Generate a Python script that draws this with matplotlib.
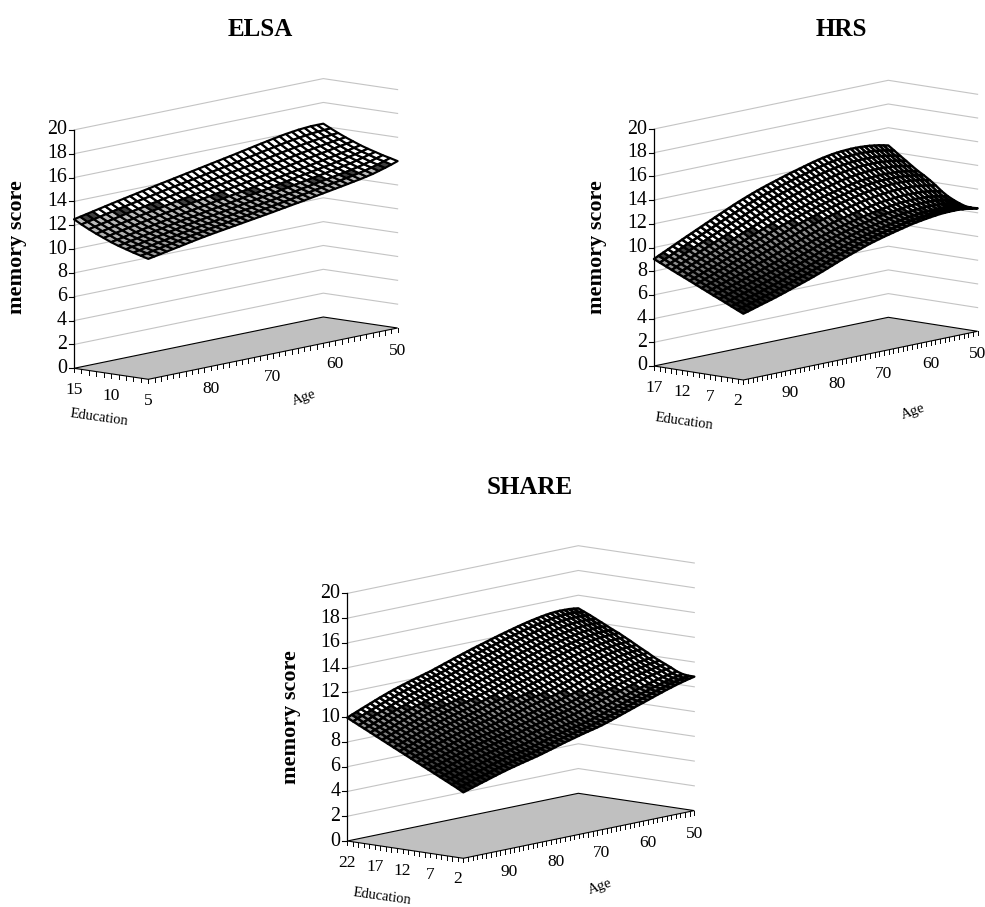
# -*- coding: utf-8 -*-

import numpy as np
import matplotlib
matplotlib.use('Agg')
import matplotlib.pyplot as plt
from matplotlib.collections import PolyCollection
from matplotlib.patches import Polygon

plt.rcParams['font.family'] = ['Liberation Serif', 'DejaVu Serif']

# ELSA: rows are education 15 ... 5, columns are age 90 ... 50
elsa_age = list(range(90, 49, -1))
elsa_edu = [15, 14, 13, 12, 11, 10, 9, 8, 7, 6, 5]
elsa_score = [
    [12.50,12.61,12.72,12.83,12.94,13.05,13.16,13.27,13.37,13.48,13.58,13.69,13.79,13.90,14.00,14.10,14.20,14.30,14.40,14.50,14.60,14.70,14.80,14.90,15.00,15.10,15.20,15.31,15.41,15.52,15.62,15.72,15.82,15.91,16.00,16.07,16.14,16.18,16.22,16.22,16.22],
    [12.16,12.27,12.38,12.49,12.60,12.71,12.82,12.92,13.02,13.13,13.23,13.33,13.43,13.54,13.64,13.74,13.83,13.93,14.02,14.12,14.22,14.32,14.41,14.51,14.61,14.71,14.81,14.91,15.01,15.12,15.22,15.32,15.42,15.51,15.60,15.68,15.75,15.81,15.86,15.89,15.91],
    [11.85,11.96,12.07,12.18,12.28,12.39,12.50,12.60,12.70,12.80,12.90,13.00,13.10,13.20,13.30,13.40,13.49,13.59,13.68,13.78,13.87,13.97,14.06,14.16,14.25,14.35,14.44,14.55,14.65,14.75,14.85,14.95,15.04,15.14,15.23,15.31,15.39,15.46,15.53,15.58,15.62],
    [11.56,11.67,11.78,11.89,11.99,12.10,12.20,12.31,12.41,12.51,12.60,12.70,12.80,12.90,12.99,13.08,13.17,13.26,13.35,13.45,13.54,13.64,13.73,13.83,13.92,14.02,14.11,14.21,14.31,14.41,14.50,14.60,14.70,14.79,14.88,14.97,15.05,15.14,15.22,15.29,15.35],
    [11.30,11.41,11.51,11.62,11.72,11.83,11.93,12.03,12.13,12.23,12.33,12.42,12.51,12.61,12.70,12.79,12.88,12.97,13.06,13.15,13.24,13.33,13.42,13.52,13.61,13.71,13.80,13.90,13.99,14.09,14.19,14.29,14.38,14.47,14.56,14.65,14.74,14.84,14.93,15.02,15.11],
    [11.04,11.14,11.24,11.35,11.45,11.56,11.66,11.76,11.86,11.96,12.05,12.14,12.23,12.32,12.41,12.50,12.59,12.68,12.77,12.86,12.94,13.03,13.12,13.21,13.30,13.40,13.49,13.59,13.68,13.78,13.88,13.97,14.06,14.16,14.25,14.35,14.44,14.55,14.65,14.76,14.87],
    [10.82,10.93,11.03,11.13,11.23,11.34,11.44,11.54,11.64,11.74,11.83,11.92,12.00,12.09,12.18,12.27,12.35,12.44,12.52,12.61,12.70,12.79,12.87,12.96,13.05,13.15,13.24,13.34,13.43,13.53,13.62,13.71,13.80,13.90,13.99,14.09,14.19,14.31,14.42,14.55,14.67],
    [10.63,10.73,10.83,10.94,11.04,11.14,11.24,11.34,11.44,11.54,11.63,11.72,11.80,11.89,11.97,12.06,12.14,12.23,12.31,12.40,12.48,12.57,12.65,12.74,12.83,12.93,13.02,13.11,13.20,13.30,13.39,13.48,13.57,13.67,13.76,13.86,13.96,14.09,14.22,14.36,14.49],
    [10.44,10.54,10.64,10.74,10.84,10.94,11.04,11.15,11.25,11.34,11.43,11.52,11.60,11.68,11.76,11.85,11.93,12.02,12.10,12.18,12.26,12.35,12.43,12.52,12.61,12.70,12.79,12.89,12.98,13.07,13.16,13.25,13.34,13.44,13.53,13.63,13.74,13.87,14.01,14.16,14.31],
    [10.27,10.37,10.47,10.57,10.67,10.77,10.87,10.97,11.07,11.16,11.25,11.34,11.42,11.50,11.58,11.66,11.74,11.83,11.91,11.99,12.07,12.16,12.24,12.33,12.41,12.51,12.60,12.69,12.78,12.87,12.96,13.05,13.14,13.24,13.33,13.44,13.55,13.69,13.83,14.00,14.16],
    [10.10,10.20,10.30,10.40,10.50,10.60,10.70,10.80,10.90,10.99,11.08,11.16,11.24,11.32,11.40,11.48,11.56,11.64,11.72,11.80,11.88,11.97,12.05,12.14,12.22,12.31,12.40,12.49,12.58,12.67,12.76,12.85,12.94,13.04,13.13,13.24,13.35,13.50,13.65,13.82,14.00],
]

# HRS: age 100 ... 50, 16 mesh rows from education 17 down to 1
hrs_age = list(range(100, 49, -1))
hrs_score = [
    [9.03,9.22,9.41,9.60,9.79,9.98,10.17,10.36,10.54,10.73,10.91,11.10,11.28,11.47,11.65,11.83,12.01,12.19,12.36,12.52,12.68,12.83,12.98,13.12,13.25,13.38,13.50,13.63,13.75,13.87,13.98,14.09,14.20,14.31,14.42,14.51,14.60,14.67,14.74,14.79,14.83,14.85,14.87,14.87,14.86,14.83,14.80,14.74,14.68,14.59,14.50],
    [8.80,8.99,9.17,9.36,9.54,9.72,9.90,10.08,10.26,10.44,10.62,10.80,10.98,11.16,11.34,11.52,11.69,11.86,12.03,12.19,12.35,12.50,12.65,12.78,12.91,13.04,13.16,13.29,13.41,13.52,13.63,13.74,13.85,13.96,14.06,14.15,14.24,14.31,14.38,14.43,14.47,14.49,14.51,14.51,14.50,14.47,14.44,14.38,14.32,14.23,14.14],
    [8.57,8.75,8.93,9.11,9.29,9.47,9.64,9.82,9.99,10.17,10.34,10.52,10.69,10.87,11.04,11.21,11.38,11.55,11.72,11.88,12.03,12.18,12.32,12.46,12.59,12.72,12.84,12.96,13.08,13.19,13.30,13.41,13.51,13.62,13.72,13.81,13.89,13.96,14.02,14.07,14.11,14.13,14.15,14.15,14.14,14.11,14.08,14.02,13.96,13.87,13.78],
    [8.34,8.52,8.69,8.86,9.03,9.20,9.37,9.54,9.71,9.88,10.05,10.22,10.39,10.56,10.73,10.90,11.06,11.23,11.39,11.55,11.70,11.85,11.99,12.12,12.25,12.38,12.50,12.62,12.74,12.85,12.95,13.06,13.16,13.26,13.36,13.45,13.54,13.61,13.67,13.72,13.76,13.78,13.80,13.80,13.79,13.76,13.73,13.67,13.61,13.52,13.43],
    [8.11,8.28,8.44,8.61,8.77,8.94,9.10,9.26,9.42,9.59,9.75,9.91,10.07,10.24,10.40,10.57,10.73,10.89,11.05,11.20,11.35,11.50,11.64,11.77,11.90,12.03,12.15,12.27,12.39,12.50,12.60,12.70,12.80,12.90,13.00,13.09,13.17,13.24,13.30,13.35,13.39,13.41,13.43,13.43,13.42,13.39,13.36,13.30,13.24,13.16,13.07],
    [7.89,8.05,8.20,8.36,8.52,8.68,8.83,8.99,9.14,9.30,9.46,9.62,9.77,9.93,10.09,10.25,10.41,10.57,10.73,10.88,11.03,11.17,11.31,11.44,11.57,11.69,11.81,11.93,12.04,12.15,12.25,12.35,12.44,12.54,12.63,12.72,12.80,12.87,12.93,12.97,13.01,13.04,13.06,13.06,13.05,13.03,13.00,12.95,12.89,12.81,12.73],
    [7.66,7.81,7.96,8.11,8.26,8.41,8.56,8.72,8.87,9.03,9.18,9.34,9.49,9.65,9.80,9.96,10.12,10.28,10.44,10.59,10.74,10.88,11.02,11.15,11.28,11.40,11.52,11.64,11.75,11.86,11.97,12.07,12.16,12.25,12.34,12.43,12.51,12.58,12.64,12.69,12.73,12.75,12.77,12.77,12.76,12.73,12.70,12.65,12.60,12.52,12.44],
    [7.43,7.57,7.72,7.87,8.02,8.17,8.31,8.45,8.60,8.76,8.91,9.06,9.21,9.35,9.50,9.65,9.81,9.97,10.12,10.27,10.42,10.57,10.71,10.84,10.97,11.09,11.21,11.33,11.44,11.55,11.65,11.75,11.84,11.93,12.02,12.11,12.19,12.25,12.31,12.36,12.40,12.43,12.45,12.45,12.45,12.43,12.40,12.35,12.29,12.20,12.11],
    [7.20,7.34,7.48,7.62,7.77,7.91,8.05,8.19,8.33,8.48,8.62,8.76,8.90,9.04,9.19,9.34,9.49,9.64,9.79,9.94,10.09,10.23,10.37,10.50,10.63,10.75,10.87,10.99,11.10,11.20,11.30,11.39,11.48,11.57,11.66,11.74,11.82,11.88,11.94,11.98,12.02,12.05,12.08,12.08,12.07,12.05,12.03,11.97,11.91,11.83,11.74],
    [6.97,7.10,7.24,7.37,7.51,7.64,7.77,7.90,8.04,8.18,8.32,8.45,8.59,8.72,8.86,9.00,9.15,9.29,9.44,9.59,9.73,9.87,10.01,10.14,10.26,10.39,10.51,10.62,10.73,10.83,10.92,11.01,11.09,11.18,11.26,11.34,11.42,11.48,11.53,11.57,11.61,11.64,11.67,11.67,11.66,11.64,11.62,11.57,11.51,11.42,11.33],
    [6.74,6.87,7.00,7.12,7.25,7.37,7.50,7.63,7.76,7.89,8.03,8.16,8.29,8.42,8.56,8.70,8.84,8.98,9.13,9.27,9.42,9.56,9.69,9.82,9.94,10.07,10.19,10.30,10.40,10.50,10.59,10.68,10.77,10.85,10.93,11.01,11.08,11.14,11.19,11.24,11.28,11.31,11.33,11.33,11.33,11.31,11.29,11.23,11.17,11.09,11.00],
    [6.52,6.64,6.76,6.89,7.01,7.13,7.25,7.38,7.50,7.63,7.77,7.89,8.02,8.15,8.28,8.42,8.56,8.70,8.85,8.99,9.13,9.27,9.41,9.54,9.67,9.79,9.91,10.02,10.13,10.23,10.32,10.41,10.49,10.58,10.66,10.74,10.82,10.87,10.92,10.97,11.01,11.04,11.07,11.07,11.07,11.06,11.04,10.98,10.92,10.84,10.75],
    [6.29,6.40,6.52,6.65,6.77,6.88,7.00,7.12,7.24,7.37,7.51,7.63,7.76,7.89,8.02,8.15,8.29,8.43,8.58,8.72,8.87,9.01,9.15,9.28,9.41,9.54,9.66,9.77,9.88,9.98,10.07,10.16,10.25,10.33,10.41,10.49,10.57,10.63,10.68,10.73,10.77,10.81,10.84,10.85,10.85,10.84,10.82,10.77,10.71,10.63,10.54],
    [6.06,6.17,6.29,6.40,6.52,6.63,6.75,6.87,7.00,7.12,7.25,7.37,7.50,7.63,7.76,7.89,8.03,8.17,8.32,8.47,8.62,8.77,8.91,9.04,9.17,9.30,9.43,9.55,9.66,9.76,9.85,9.94,10.03,10.12,10.20,10.28,10.36,10.42,10.48,10.53,10.58,10.62,10.65,10.66,10.67,10.66,10.65,10.60,10.54,10.46,10.38],
    [5.83,5.95,6.06,6.18,6.30,6.41,6.52,6.64,6.77,6.90,7.03,7.16,7.29,7.41,7.54,7.68,7.82,7.97,8.12,8.27,8.43,8.58,8.73,8.87,9.00,9.14,9.27,9.39,9.50,9.61,9.71,9.81,9.90,9.99,10.08,10.17,10.25,10.32,10.38,10.43,10.48,10.53,10.57,10.59,10.60,10.59,10.58,10.54,10.49,10.42,10.34],
    [5.60,5.71,5.83,5.95,6.07,6.18,6.30,6.42,6.55,6.68,6.82,6.95,7.08,7.21,7.35,7.49,7.64,7.79,7.95,8.11,8.27,8.43,8.58,8.73,8.87,9.01,9.15,9.28,9.40,9.51,9.62,9.72,9.82,9.92,10.01,10.11,10.20,10.27,10.34,10.40,10.46,10.51,10.56,10.58,10.60,10.60,10.60,10.56,10.52,10.45,10.38],
]

# SHARE: age 100 ... 50, 21 mesh rows from education 22 down to 1
share_age = list(range(100, 49, -1))
share_score = [
    [9.96,10.12,10.27,10.43,10.58,10.73,10.88,11.03,11.17,11.31,11.44,11.56,11.68,11.79,11.90,12.01,12.11,12.22,12.32,12.45,12.57,12.70,12.82,12.95,13.07,13.19,13.31,13.43,13.54,13.65,13.76,13.87,13.98,14.09,14.19,14.29,14.39,14.49,14.58,14.67,14.75,14.82,14.89,14.95,15.00,15.03,15.05,15.04,15.03,14.99,14.94],
    [9.73,9.89,10.04,10.19,10.34,10.49,10.64,10.78,10.92,11.06,11.19,11.31,11.43,11.54,11.65,11.76,11.86,11.97,12.07,12.19,12.31,12.44,12.56,12.69,12.81,12.93,13.05,13.16,13.27,13.38,13.49,13.61,13.72,13.83,13.93,14.03,14.13,14.23,14.32,14.41,14.50,14.57,14.64,14.70,14.76,14.79,14.82,14.82,14.81,14.77,14.73],
    [9.50,9.65,9.80,9.95,10.10,10.25,10.39,10.54,10.68,10.81,10.94,11.06,11.18,11.29,11.39,11.50,11.60,11.70,11.81,11.93,12.06,12.18,12.30,12.43,12.55,12.67,12.79,12.90,13.01,13.12,13.23,13.34,13.45,13.56,13.66,13.77,13.87,13.97,14.07,14.16,14.25,14.33,14.40,14.46,14.52,14.56,14.59,14.59,14.59,14.56,14.53],
    [9.27,9.42,9.56,9.71,9.86,10.01,10.15,10.29,10.43,10.56,10.69,10.81,10.92,11.03,11.13,11.24,11.34,11.44,11.55,11.67,11.79,11.92,12.04,12.16,12.28,12.40,12.51,12.62,12.73,12.84,12.95,13.06,13.17,13.28,13.38,13.49,13.59,13.69,13.79,13.88,13.97,14.05,14.13,14.20,14.26,14.30,14.34,14.35,14.35,14.33,14.30],
    [9.04,9.19,9.33,9.48,9.62,9.76,9.90,10.04,10.18,10.31,10.43,10.55,10.67,10.78,10.88,10.98,11.07,11.17,11.28,11.40,11.53,11.65,11.77,11.89,12.01,12.12,12.23,12.34,12.45,12.56,12.67,12.78,12.89,13.00,13.10,13.21,13.31,13.42,13.52,13.61,13.70,13.79,13.87,13.94,14.00,14.05,14.09,14.10,14.11,14.10,14.08],
    [8.81,8.96,9.10,9.24,9.38,9.52,9.66,9.80,9.93,10.06,10.19,10.30,10.41,10.52,10.62,10.72,10.82,10.92,11.02,11.14,11.26,11.38,11.50,11.62,11.73,11.85,11.96,12.07,12.18,12.28,12.38,12.50,12.61,12.72,12.83,12.93,13.03,13.14,13.24,13.34,13.43,13.52,13.60,13.68,13.75,13.80,13.84,13.86,13.88,13.87,13.85],
    [8.58,8.72,8.86,9.00,9.14,9.28,9.41,9.54,9.67,9.80,9.93,10.04,10.15,10.25,10.35,10.45,10.55,10.65,10.75,10.87,10.99,11.11,11.22,11.34,11.46,11.58,11.69,11.79,11.89,12.00,12.10,12.21,12.32,12.43,12.54,12.65,12.76,12.86,12.96,13.06,13.16,13.25,13.33,13.41,13.49,13.54,13.59,13.62,13.64,13.63,13.62],
    [8.35,8.49,8.63,8.77,8.90,9.04,9.17,9.30,9.43,9.56,9.68,9.79,9.90,10.00,10.10,10.20,10.30,10.40,10.50,10.62,10.74,10.85,10.96,11.08,11.20,11.32,11.43,11.53,11.63,11.74,11.84,11.95,12.06,12.17,12.28,12.39,12.50,12.61,12.71,12.81,12.91,13.00,13.09,13.17,13.25,13.31,13.36,13.39,13.42,13.42,13.42],
    [8.12,8.25,8.38,8.52,8.66,8.79,8.92,9.05,9.18,9.30,9.42,9.53,9.63,9.74,9.84,9.93,10.02,10.12,10.23,10.34,10.46,10.58,10.69,10.81,10.92,11.03,11.13,11.23,11.33,11.43,11.53,11.64,11.76,11.87,11.98,12.09,12.20,12.31,12.41,12.51,12.61,12.71,12.80,12.88,12.96,13.02,13.08,13.12,13.15,13.16,13.17],
    [7.89,8.02,8.15,8.28,8.41,8.54,8.67,8.80,8.93,9.05,9.16,9.27,9.37,9.47,9.56,9.65,9.75,9.85,9.96,10.08,10.19,10.30,10.41,10.52,10.63,10.74,10.84,10.94,11.04,11.14,11.24,11.35,11.46,11.57,11.68,11.79,11.90,12.01,12.12,12.22,12.32,12.42,12.51,12.60,12.68,12.75,12.81,12.85,12.89,12.91,12.93],
    [7.66,7.79,7.91,8.04,8.17,8.30,8.42,8.55,8.67,8.79,8.90,9.01,9.11,9.21,9.30,9.39,9.48,9.58,9.68,9.80,9.91,10.02,10.13,10.24,10.35,10.45,10.55,10.65,10.74,10.84,10.94,11.05,11.16,11.27,11.38,11.49,11.60,11.72,11.83,11.93,12.03,12.13,12.22,12.31,12.40,12.47,12.54,12.59,12.63,12.65,12.67],
    [7.43,7.55,7.67,7.80,7.93,8.06,8.18,8.30,8.41,8.53,8.64,8.75,8.85,8.94,9.03,9.12,9.21,9.30,9.40,9.52,9.63,9.74,9.84,9.95,10.06,10.17,10.27,10.36,10.45,10.55,10.64,10.75,10.86,10.97,11.08,11.20,11.31,11.42,11.53,11.64,11.74,11.84,11.93,12.03,12.12,12.20,12.27,12.32,12.37,12.40,12.42],
    [7.20,7.32,7.44,7.56,7.68,7.80,7.92,8.04,8.16,8.27,8.38,8.49,8.59,8.68,8.76,8.85,8.94,9.03,9.13,9.25,9.36,9.46,9.56,9.67,9.78,9.88,9.98,10.07,10.15,10.25,10.35,10.46,10.56,10.67,10.78,10.90,11.01,11.13,11.24,11.35,11.45,11.55,11.65,11.75,11.84,11.92,11.99,12.05,12.11,12.15,12.18],
    [6.97,7.08,7.20,7.32,7.44,7.56,7.67,7.79,7.90,8.01,8.12,8.22,8.32,8.41,8.49,8.58,8.66,8.75,8.85,8.96,9.07,9.18,9.28,9.38,9.48,9.58,9.67,9.76,9.85,9.94,10.03,10.14,10.25,10.36,10.47,10.58,10.69,10.81,10.92,11.03,11.13,11.24,11.34,11.44,11.53,11.62,11.70,11.76,11.82,11.87,11.91],
    [6.74,6.85,6.96,7.08,7.20,7.32,7.43,7.55,7.66,7.76,7.86,7.96,8.06,8.15,8.23,8.31,8.39,8.49,8.59,8.70,8.81,8.91,9.01,9.11,9.21,9.30,9.39,9.47,9.56,9.65,9.75,9.85,9.96,10.07,10.19,10.30,10.41,10.53,10.65,10.75,10.86,10.97,11.08,11.18,11.28,11.37,11.45,11.52,11.59,11.64,11.69],
    [6.51,6.62,6.73,6.84,6.96,7.08,7.19,7.30,7.41,7.52,7.62,7.72,7.81,7.90,7.98,8.05,8.13,8.23,8.34,8.44,8.55,8.65,8.75,8.85,8.95,9.04,9.13,9.21,9.30,9.39,9.48,9.59,9.70,9.81,9.92,10.03,10.15,10.27,10.39,10.50,10.61,10.72,10.83,10.94,11.04,11.13,11.22,11.29,11.36,11.42,11.48],
    [6.28,6.38,6.49,6.61,6.73,6.84,6.94,7.05,7.16,7.27,7.37,7.46,7.55,7.64,7.72,7.80,7.88,7.98,8.08,8.18,8.29,8.39,8.49,8.59,8.69,8.78,8.87,8.95,9.03,9.12,9.22,9.32,9.43,9.54,9.66,9.77,9.89,10.01,10.13,10.24,10.36,10.47,10.58,10.69,10.80,10.90,10.99,11.07,11.15,11.21,11.27],
    [6.05,6.15,6.26,6.37,6.48,6.59,6.69,6.80,6.91,7.01,7.11,7.20,7.29,7.37,7.46,7.54,7.62,7.71,7.81,7.91,8.02,8.11,8.21,8.30,8.40,8.49,8.59,8.66,8.74,8.83,8.92,9.03,9.14,9.25,9.36,9.48,9.60,9.72,9.84,9.95,10.07,10.18,10.30,10.41,10.52,10.62,10.72,10.81,10.89,10.96,11.03],
    [5.82,5.92,6.02,6.13,6.25,6.35,6.46,6.56,6.67,6.77,6.88,6.97,7.06,7.14,7.23,7.30,7.38,7.47,7.57,7.68,7.79,7.89,7.99,8.08,8.18,8.27,8.36,8.44,8.52,8.61,8.70,8.81,8.92,9.04,9.16,9.27,9.39,9.51,9.64,9.75,9.87,9.99,10.11,10.22,10.34,10.44,10.55,10.64,10.73,10.81,10.88],
    [5.59,5.69,5.80,5.91,6.02,6.12,6.23,6.34,6.46,6.56,6.66,6.75,6.85,6.93,7.02,7.10,7.19,7.29,7.39,7.50,7.61,7.71,7.81,7.91,8.01,8.10,8.19,8.27,8.36,8.45,8.55,8.66,8.77,8.89,9.01,9.13,9.26,9.39,9.52,9.64,9.76,9.88,10.01,10.13,10.25,10.36,10.47,10.56,10.66,10.74,10.82],
    [5.33,5.45,5.57,5.68,5.80,5.91,6.03,6.14,6.26,6.36,6.47,6.56,6.66,6.75,6.84,6.93,7.02,7.12,7.23,7.34,7.45,7.56,7.67,7.77,7.87,7.97,8.07,8.16,8.25,8.34,8.44,8.56,8.68,8.81,8.94,9.07,9.20,9.33,9.46,9.58,9.71,9.84,9.97,10.09,10.22,10.33,10.45,10.55,10.65,10.74,10.82],
]

score_ticks = [0, 2, 4, 6, 8, 10, 12, 14, 16, 18, 20]
elsa_age_labels = [80, 70, 60, 50]
hrs_age_labels = [90, 80, 70, 60, 50]
share_age_labels = [90, 80, 70, 60, 50]
elsa_edu_labels = [15, 10, 5]
hrs_edu_labels = [17, 12, 7, 2]
share_edu_labels = [22, 17, 12, 7, 2]

GRID = '#c4c4c4'
FLOOR = '#c0c0c0'


def draw_panel(ax, title, ages, edu_rows, scores, age_labels, edu_labels, geo):
    ages = np.array(ages, dtype=float)
    edu_rows = np.array(edu_rows, dtype=float)
    scores = np.array(scores, dtype=float)
    age_hi, age_lo = ages[0], ages[-1]
    edu_hi, edu_lo = geo['edu_range']
    ox, oy = geo['origin']
    ax_a, ay_a = geo['age_vec']
    ax_e, ay_e = geo['edu_vec']
    zs = geo['z_unit']

    def proj(age, edu, z=0.0):
        u = (age_hi - age) / (age_hi - age_lo)
        v = (edu_hi - edu) / (edu_hi - edu_lo)
        return ox + u * ax_a + v * ax_e, oy + u * ay_a + v * ay_e - z * zs

    # wall lines
    for z in score_ticks[1:]:
        pts = [proj(age_hi, edu_hi, z), proj(age_lo, edu_hi, z), proj(age_lo, edu_lo, z)]
        ax.plot(*zip(*pts), color=GRID, lw=0.8, zorder=1, solid_joinstyle='miter')

    # floor
    floor = [proj(age_hi, edu_hi), proj(age_lo, edu_hi), proj(age_lo, edu_lo), proj(age_hi, edu_lo)]
    ax.add_patch(Polygon(floor, closed=True, fc=FLOOR, ec='black', lw=0.8, zorder=2))

    # score axis
    ax.plot(*zip(proj(age_hi, edu_hi, 0), proj(age_hi, edu_hi, 20)), color='black', lw=0.9, zorder=3)
    for z in score_ticks:
        x, y = proj(age_hi, edu_hi, z)
        ax.plot([x - 5.5, x], [y, y], color='black', lw=0.8, zorder=3)
        ax.text(x - 7, y, str(z), ha='right', va='center', fontsize=14.4)

    # ticks along the floor
    for edu in np.arange(edu_hi, edu_lo - 0.5, -1):
        x, y = proj(age_hi, edu)
        ax.plot([x, x], [y, y + 4], color='black', lw=0.7, zorder=3)
    for age in np.arange(age_hi, age_lo - 0.5, -1):
        x, y = proj(age, edu_lo)
        ax.plot([x, x], [y, y + 4], color='black', lw=0.7, zorder=3)
    for edu in edu_labels:
        x, y = proj(age_hi, edu)
        ax.text(x, y + 22, str(edu), ha='center', va='center', fontsize=12.5)
    for age in age_labels:
        x, y = proj(age, edu_lo)
        ax.text(x, y + 23, str(age), ha='center', va='center', fontsize=12.5, clip_on=True)

    # surface mesh
    polys = []
    faces = []
    n_e, n_a = scores.shape
    for j in range(n_e - 1):
        for i in range(n_a - 1):
            corners = [(i, j), (i + 1, j), (i + 1, j + 1), (i, j + 1)]
            polys.append([proj(ages[p], edu_rows[q], scores[q, p]) for p, q in corners])
            u = (i + 0.5) / (n_a - 1)
            v = (j + 0.5) / (n_e - 1)
            if abs(u - v) < geo['crease']:
                faces.append('0.25')
            elif v < u:
                faces.append(geo['upper'])
            else:
                faces.append(str(max(0.0, geo['lower'] * (1 - geo['fade'] * (v - u)))))
    ax.add_collection(PolyCollection(polys, facecolors=faces, edgecolors='black',
                                     linewidths=geo['mesh_lw'], zorder=4))

    ax.text(geo['title'][0], geo['title'][1], title, ha='center', va='center',
            fontsize=18, fontweight='bold')
    ax.text(geo['ylabel'][0], geo['ylabel'][1], 'memory score', rotation=90, ha='center',
            va='center', fontsize=16, fontweight='bold')
    ax.text(geo['edu_text'][0], geo['edu_text'][1], 'Education', rotation=-8, ha='center',
            va='center', fontsize=10.5, rotation_mode='anchor')
    ax.text(geo['age_text'][0], geo['age_text'][1], 'Age', rotation=20, ha='center',
            va='center', fontsize=10.5, rotation_mode='anchor')


fig = plt.figure(figsize=(9.85, 9.07), dpi=100)
ax = fig.add_axes([0, 0, 1, 1])
ax.set_xlim(0, 985)
ax.set_ylim(907, 0)
ax.axis('off')

draw_panel(ax, 'ELSA', elsa_age, elsa_edu, elsa_score, elsa_age_labels, elsa_edu_labels,
           dict(origin=(74, 368.3), age_vec=(249.3, -51.3), edu_vec=(74.3, 11), z_unit=11.92,
                edu_range=(15, 5), title=(260, 29), ylabel=(17, 247), edu_text=(99, 418),
                age_text=(304, 398), mesh_lw=1.55, upper='white', lower=0.75, fade=0.2, crease=0.02))
draw_panel(ax, 'HRS', hrs_age, np.linspace(17, 1, 16), hrs_score, hrs_age_labels, hrs_edu_labels,
           dict(origin=(654, 366), age_vec=(234.3, -48.7), edu_vec=(89.3, 14), z_unit=11.85,
                edu_range=(17, 1), title=(841, 30), ylabel=(597, 247), edu_text=(684, 422),
                age_text=(913, 412), mesh_lw=1.75, upper='white', lower=0.65, fade=0.9, crease=0.015))
draw_panel(ax, 'SHARE', share_age, np.linspace(22, 1, 21), share_score, share_age_labels, share_edu_labels,
           dict(origin=(347.3, 841), age_vec=(231, -47.7), edu_vec=(116, 17.3), z_unit=12.38,
                edu_range=(22, 1), title=(530, 488), ylabel=(291, 717), edu_text=(382, 897),
                age_text=(600, 887), mesh_lw=1.75, upper='white', lower=0.65, fade=0.9, crease=0.012))

fig.savefig('out.png', dpi=100)
